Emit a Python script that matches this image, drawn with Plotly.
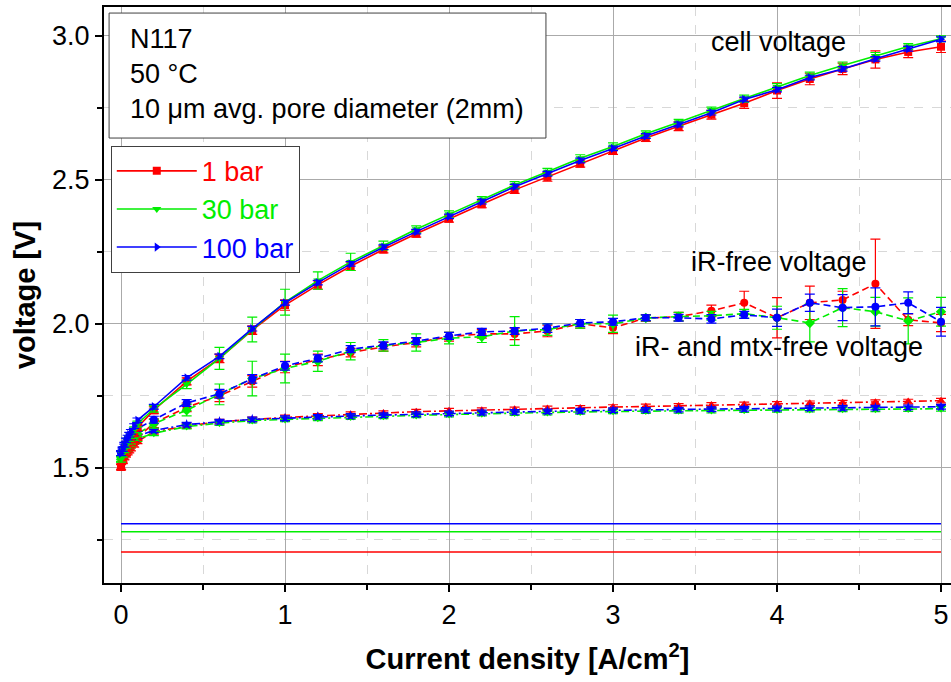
import plotly.graph_objects as go

# Current density [A/cm^2]
current = [0, 0.01, 0.02, 0.03, 0.04, 0.05, 0.06, 0.08, 0.1,
           0.2, 0.4, 0.6, 0.8, 1.0, 1.2, 1.4, 1.6, 1.8, 2.0, 2.2, 2.4, 2.6, 2.8,
           3.0, 3.2, 3.4, 3.6, 3.8, 4.0, 4.2, 4.4, 4.6, 4.8, 5.0]

pressures = ["1 bar", "30 bar", "100 bar"]

# Cell voltage [V]
cell_1 = [1.503, 1.530, 1.550, 1.565, 1.580, 1.590, 1.600, 1.620, 1.640,
          1.700, 1.800, 1.880, 1.978, 2.065, 2.135, 2.200, 2.258, 2.313, 2.365, 2.415, 2.465, 2.510, 2.556,
          2.600, 2.645, 2.686, 2.726, 2.766, 2.810, 2.850, 2.885, 2.918, 2.944, 2.962]
cell_30 = [1.530, 1.548, 1.563, 1.578, 1.592, 1.602, 1.612, 1.632, 1.652,
           1.705, 1.790, 1.880, 1.980, 2.075, 2.150, 2.215, 2.272, 2.328, 2.380, 2.432, 2.482, 2.528, 2.575,
           2.616, 2.660, 2.700, 2.742, 2.782, 2.822, 2.862, 2.897, 2.930, 2.963, 2.990]
cell_100 = [1.550, 1.565, 1.580, 1.595, 1.605, 1.615, 1.625, 1.645, 1.665,
            1.712, 1.812, 1.887, 1.983, 2.073, 2.143, 2.208, 2.266, 2.320, 2.373, 2.424, 2.476, 2.521, 2.567,
            2.609, 2.652, 2.692, 2.733, 2.779, 2.813, 2.855, 2.885, 2.920, 2.955, 2.988]

cell_err_1 = [0.010] * 9 + [0.012, 0.012, 0.015, 0.015, 0.018, 0.015, 0.015, 0.012, 0.012, 0.012, 0.012, 0.012, 0.015, 0.012,
                            0.012, 0.012, 0.015, 0.015, 0.018, 0.027, 0.020, 0.020, 0.030, 0.020, 0.020]
cell_err_30 = [0.010] * 9 + [0.012, 0.015, 0.038, 0.043, 0.045, 0.030, 0.030, 0.015, 0.012, 0.012, 0.010, 0.012, 0.012, 0.012,
                             0.012, 0.010, 0.010, 0.010, 0.012, 0.012, 0.012, 0.012, 0.012, 0.010, 0.010]
cell_err_100 = [0.008] * 34

# iR-free voltage [V]
irfree_1 = [1.503, 1.525, 1.540, 1.552, 1.562, 1.570, 1.578, 1.592, 1.605,
            1.655, 1.710, 1.750, 1.800, 1.850, 1.875, 1.900, 1.920, 1.935, 1.955, 1.965, 1.965, 1.975, 2.000,
            1.986, 2.020, 2.025, 2.045, 2.073, 2.021, 2.073, 2.083, 2.139, 2.014, 2.003]
irfree_30 = [1.530, 1.545, 1.557, 1.567, 1.577, 1.585, 1.592, 1.605, 1.618,
             1.653, 1.700, 1.755, 1.810, 1.845, 1.870, 1.905, 1.925, 1.935, 1.950, 1.955, 1.975, 1.980, 2.000,
             2.000, 2.020, 2.025, 2.028, 2.035, 2.021, 2.003, 2.056, 2.042, 2.010, 2.042]
irfree_100 = [1.550, 1.560, 1.572, 1.582, 1.592, 1.600, 1.608, 1.622, 1.636,
              1.667, 1.725, 1.757, 1.809, 1.854, 1.880, 1.912, 1.925, 1.940, 1.958, 1.972, 1.975, 1.985, 2.003,
              2.007, 2.021, 2.021, 2.017, 2.031, 2.021, 2.073, 2.056, 2.059, 2.073, 2.007]

irfree_err_1 = [0.010] * 9 + [0.015, 0.015, 0.020, 0.020, 0.020, 0.020, 0.015, 0.015, 0.015, 0.015, 0.015, 0.020, 0.020, 0.015,
                              0.020, 0.012, 0.015, 0.020, 0.040, 0.070, 0.058, 0.030, 0.155, 0.020, 0.030]
irfree_err_30 = [0.010] * 9 + [0.015, 0.020, 0.036, 0.060, 0.050, 0.035, 0.030, 0.020, 0.030, 0.020, 0.020, 0.050, 0.020, 0.015,
                               0.030, 0.010, 0.015, 0.015, 0.015, 0.040, 0.066, 0.066, 0.050, 0.080, 0.050]
irfree_err_100 = [0.010] * 9 + [0.012, 0.012, 0.015, 0.015, 0.015, 0.012, 0.012, 0.012, 0.012, 0.012, 0.012, 0.012, 0.015, 0.012,
                                0.012, 0.010, 0.012, 0.015, 0.012, 0.030, 0.030, 0.045, 0.066, 0.038, 0.050]

# iR- and mass-transport-free voltage [V]
mtxfree_1 = [1.503, 1.522, 1.535, 1.545, 1.553, 1.560, 1.567, 1.580, 1.592,
             1.625, 1.645, 1.660, 1.668, 1.675, 1.680, 1.686, 1.690, 1.695, 1.698, 1.700, 1.703, 1.706, 1.708,
             1.711, 1.713, 1.715, 1.718, 1.720, 1.722, 1.724, 1.726, 1.728, 1.730, 1.733]
mtxfree_30 = [1.530, 1.542, 1.552, 1.560, 1.567, 1.574, 1.580, 1.590, 1.600,
              1.620, 1.643, 1.655, 1.664, 1.668, 1.672, 1.676, 1.679, 1.682, 1.685, 1.688, 1.690, 1.692, 1.694,
              1.696, 1.697, 1.698, 1.699, 1.700, 1.701, 1.702, 1.703, 1.703, 1.704, 1.705]
mtxfree_100 = [1.550, 1.558, 1.566, 1.573, 1.579, 1.585, 1.590, 1.600, 1.610,
               1.630, 1.650, 1.660, 1.668, 1.672, 1.677, 1.680, 1.683, 1.686, 1.689, 1.692, 1.694, 1.696, 1.698,
               1.700, 1.701, 1.702, 1.704, 1.705, 1.706, 1.707, 1.708, 1.709, 1.710, 1.712]
mtxfree_err = [0.008] * 34

# Reversible cell voltage per pressure [V]
reversible = [1.208, 1.278, 1.306]
reversible_span = [0, 5]

colors = ["#ff0000", "#00ee00", "#0000ff"]
cell_symbols = ["square", "triangle-down", "triangle-right"]
irfree_symbols = ["circle", "diamond", "circle"]
mtxfree_symbols = ["triangle-up", "triangle-down", "star"]

cell_sets = [(cell_1, cell_err_1), (cell_30, cell_err_30), (cell_100, cell_err_100)]
irfree_sets = [(irfree_1, irfree_err_1), (irfree_30, irfree_err_30), (irfree_100, irfree_err_100)]
mtxfree_sets = [(mtxfree_1, mtxfree_err), (mtxfree_30, mtxfree_err), (mtxfree_100, mtxfree_err)]

FONT = "Arial, 'Liberation Sans', sans-serif"
TEXT_SIZE = 27

fig = go.Figure()


def add_curve(y, err, color, symbol, dash, name=None, legend=False):
    fig.add_trace(go.Scatter(
        x=current, y=y, mode="lines+markers",
        name=name, showlegend=legend,
        line=dict(color=color, width=1.6, dash=dash),
        marker=dict(symbol=symbol, size=8, color=color),
        error_y=dict(type="data", array=err, visible=True,
                     color=color, thickness=1.2, width=5),
    ))


# reversible voltage reference lines
for e_rev, c in zip(reversible, colors):
    fig.add_trace(go.Scatter(
        x=reversible_span, y=[e_rev, e_rev], mode="lines",
        line=dict(color=c, width=1.5), showlegend=False, hoverinfo="skip",
    ))

for i in range(3):
    add_curve(*mtxfree_sets[i], colors[i], mtxfree_symbols[i], "8px,3px,2px,3px")
for i in range(3):
    add_curve(*irfree_sets[i], colors[i], irfree_symbols[i], "7px,4px")
for i in range(3):
    label = f'<span style="color:{colors[i]}">{pressures[i]}</span>'
    add_curve(*cell_sets[i], colors[i], cell_symbols[i], "solid", name=label, legend=True)

# info box
fig.add_shape(type="rect", xref="x", yref="y",
              x0=-0.073, x1=2.591, y0=2.645, y1=3.079,
              line=dict(color="#404040", width=1), fillcolor="white", layer="above")
fig.add_annotation(xref="x", yref="y", x=0.045, y=3.047,
                   xanchor="left", yanchor="top", align="left", showarrow=False,
                   text="N117<br>50 °C<br>10 μm avg. pore diameter (2mm)",
                   font=dict(size=TEXT_SIZE, color="black", family=FONT))

# curve group labels
for txt, yv in [("cell voltage", 2.978), ("iR-free voltage", 2.215),
                ("iR- and mtx-free voltage", 1.919)]:
    fig.add_annotation(xref="x", yref="y", x=4.01, y=yv, text=txt,
                       showarrow=False, xanchor="center", yanchor="middle",
                       font=dict(size=TEXT_SIZE, color="black", family=FONT))

axis_common = dict(
    showline=True, linecolor="black", linewidth=2,
    ticks="outside", ticklen=7, tickwidth=2, tickcolor="black",
    showgrid=True, gridcolor="#aaaaaa", gridwidth=1,
    zeroline=False,
    tickfont=dict(size=27, color="black", family=FONT),
)

fig.update_xaxes(
    range=[-0.104, 5.061], dtick=1, tick0=0,
    minor=dict(dtick=0.5, ticks="outside", ticklen=5, tickwidth=1.5, tickcolor="black",
               showgrid=True, gridcolor="#d8d8d8", griddash="dash", gridwidth=1),
    mirror=True,
    title=dict(text="<b>Current density [A/cm<sup>2</sup>]</b>",
               font=dict(size=29, color="black", family=FONT), standoff=19),
    **axis_common,
)
fig.update_yaxes(
    range=[1.1, 3.1], dtick=0.5, tick0=0, tickformat=".1f",
    minor=dict(dtick=0.25, ticks="outside", ticklen=5, tickwidth=1.5, tickcolor="black",
               showgrid=True, gridcolor="#d8d8d8", griddash="dash", gridwidth=1),
    title=dict(text="<b>voltage [V]</b>",
               font=dict(size=29, color="black", family=FONT), standoff=8),
    **axis_common,
)

fig.update_layout(
    width=951, height=682,
    margin=dict(l=104, r=0, t=7, b=99, autoexpand=False),
    plot_bgcolor="white", paper_bgcolor="white",
    font=dict(family=FONT, color="black"),
    legend=dict(x=0.008, y=0.759, xanchor="left", yanchor="top",
                bgcolor="white", bordercolor="#404040", borderwidth=1,
                font=dict(size=TEXT_SIZE, family=FONT), tracegroupgap=0,
                itemwidth=80),
    showlegend=True,
)

fig.write_html("out.html")
